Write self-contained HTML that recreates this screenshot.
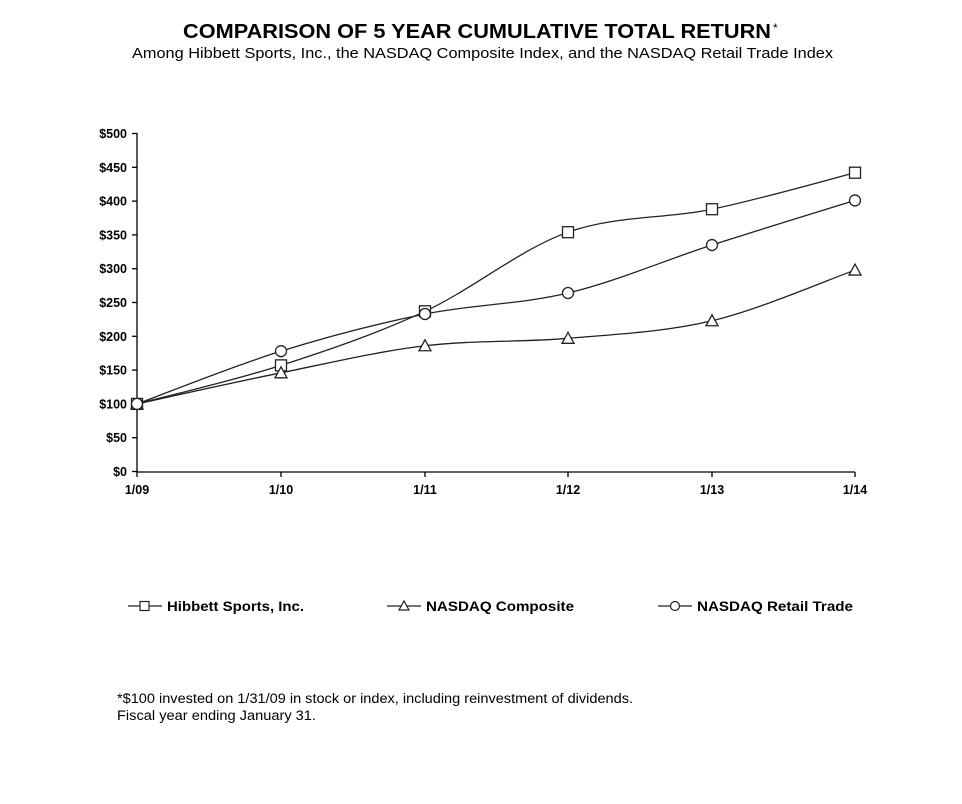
<!DOCTYPE html>
<html><head><meta charset="utf-8"><style>
body{margin:0;background:#fff;width:962px;height:799px;overflow:hidden;font-family:"Liberation Sans",Arial,sans-serif}
</style></head><body>
<svg id="s" width="962" height="799" xmlns="http://www.w3.org/2000/svg" font-family="Liberation Sans, Arial, sans-serif">
<text x="183" y="38" font-size="20" font-weight="bold" textLength="588" lengthAdjust="spacingAndGlyphs">COMPARISON OF 5 YEAR CUMULATIVE TOTAL RETURN</text>
<text x="773" y="32" font-size="12">*</text>
<text x="132" y="58" font-size="14.5" textLength="701" lengthAdjust="spacingAndGlyphs">Among Hibbett Sports, Inc., the NASDAQ  Composite Index, and the NASDAQ  Retail Trade Index</text>
<g id="ax" stroke="#000" stroke-width="1.3" fill="none"></g>
<g id="lbl" font-size="12.5" font-weight="bold"></g>
<g id="ser" stroke="#222" stroke-width="1.3" fill="none"></g>
<g font-size="13.5" font-weight="bold" stroke="#222" stroke-width="1.2">
<line x1="128" y1="606" x2="162" y2="606"/><rect x="140" y="601.5" width="9" height="9" fill="#fff"/>
<text x="167" y="611" stroke="none" textLength="137" lengthAdjust="spacingAndGlyphs">Hibbett Sports, Inc.</text>
<line x1="387" y1="606" x2="421" y2="606"/><path d="M404 601 L409 610 L399 610 Z" fill="#fff"/>
<text x="426" y="611" stroke="none" textLength="148" lengthAdjust="spacingAndGlyphs">NASDAQ Composite</text>
<line x1="658" y1="606" x2="692" y2="606"/><circle cx="675" cy="606" r="4.5" fill="#fff"/>
<text x="697" y="611" stroke="none" textLength="156" lengthAdjust="spacingAndGlyphs">NASDAQ Retail Trade</text>
</g>
<text x="117" y="703" font-size="13.5" textLength="516" lengthAdjust="spacingAndGlyphs">*$100 invested on 1/31/09 in stock or index, including reinvestment of dividends.</text>
<text x="117" y="720" font-size="13.5" textLength="199" lengthAdjust="spacingAndGlyphs">Fiscal year ending January 31.</text>
</svg>
<script>
var NS="http://www.w3.org/2000/svg";
function el(p,t,a,txt){var e=document.createElementNS(NS,t);for(var k in a)e.setAttribute(k,a[k]);if(txt)e.textContent=txt;p.appendChild(e);return e;}
var ax=document.getElementById('ax'),lbl=document.getElementById('lbl'),ser=document.getElementById('ser');
var X=[137,281,425,568,712,855];function Y(v){return 471.5-v*0.676;}
el(ax,'line',{x1:137,y1:133,x2:137,y2:472});el(ax,'line',{x1:137,y1:472,x2:855,y2:472});
for(var v=0;v<=500;v+=50){var y=Y(v);el(ax,'line',{x1:132,y1:y,x2:137,y2:y});el(lbl,'text',{x:127,y:y+4.5,'text-anchor':'end'},'$'+v);}
var xl=['1/09','1/10','1/11','1/12','1/13','1/14'];
X.forEach(function(x,i){el(ax,'line',{x1:x,y1:472,x2:x,y2:477});el(lbl,'text',{x:x,y:494,'text-anchor':'middle'},xl[i]);});
var D={sq:[100,157,237,354,388,442],tr:[100,146,186,197,223,298],ci:[100,178,233,264,335,401]};
function path(d){var p=d.map(function(v,i){return [X[i],Y(v)];});var s='M'+p[0][0]+' '+p[0][1];
for(var i=0;i<p.length-1;i++){var p0=p[i-1]||p[i],p1=p[i],p2=p[i+1],p3=p[i+2]||p2;
var c1=[p1[0]+(p2[0]-p0[0])/6,p1[1]+(p2[1]-p0[1])/6],c2=[p2[0]-(p3[0]-p1[0])/6,p2[1]-(p3[1]-p1[1])/6];
s+=' C'+c1+' '+c2+' '+p2;}return s;}
for(var k in D){el(ser,'path',{d:path(D[k])});}
for(var k in D){D[k].forEach(function(v,i){var x=X[i],y=Y(v);
if(k=='sq')el(ser,'rect',{x:x-5.5,y:y-5.5,width:11,height:11,fill:'#fff'});
if(k=='tr')el(ser,'path',{d:'M'+x+' '+(y-6)+' L'+(x+6)+' '+(y+5)+' L'+(x-6)+' '+(y+5)+'Z',fill:'#fff'});
if(k=='ci')el(ser,'circle',{cx:x,cy:y,r:5.5,fill:'#fff'});});}
</script>
</body></html>
